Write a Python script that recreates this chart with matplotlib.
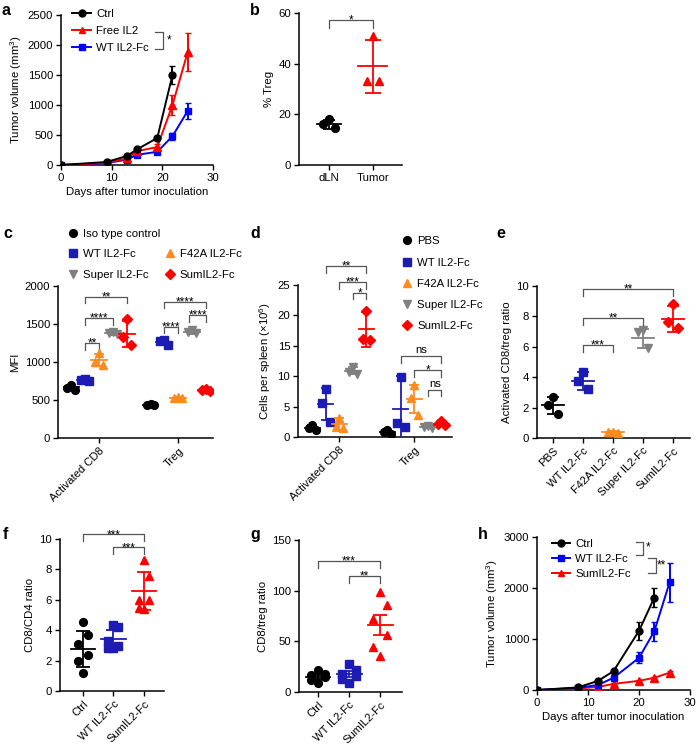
import matplotlib
matplotlib.use("Agg")
import matplotlib.pyplot as plt
from matplotlib.lines import Line2D

plt.rcParams["font.family"] = ["Liberation Sans", "DejaVu Sans"]
plt.rcParams["mathtext.default"] = "regular"
plt.rcParams["axes.linewidth"] = 1.1

FS = 8.2
STAR = 8.5
BLACK, RED, BLUE, NAVY = "#000000", "#ff0000", "#0000ff", "#1c1cb4"
ORANGE, GREY, BRK = "#ff8a1f", "#808080", "#555555"

# ---- a: tumour growth
a_days = [0, 9, 13, 15, 19, 22, 25]
a_ctrl = [0, 50, 150, 260, 450, 1500]
a_ctrl_err = [0, 10, 20, 25, 40, 150]
a_il2 = [0, 35, 110, 230, 300, 1000, 1880]
a_il2_err = [0, 10, 15, 25, 50, 170, 320]
a_wt = [0, 30, 90, 170, 220, 480, 900]
a_wt_err = [0, 8, 15, 20, 25, 55, 140]

# ---- b: % Treg
b_cats = ["dLN", "Tumor"]
b_pts = [[18, 16, 14.5], [51, 33, 33]]
b_mean = [16, 39]
b_err = [1.8, 10.5]

# ---- c: MFI
c_series = ["Iso type control", "WT IL2-Fc", "F42A IL2-Fc", "Super IL2-Fc", "SumIL2-Fc"]
c_groups = ["Activated CD8", "Treg"]
c_cd8_pts = [[700, 660, 630], [770, 760, 750], [1120, 1000, 960], [1390, 1380, 1370], [1560, 1330, 1230]]
c_cd8_mean = [665, 760, 1025, 1380, 1370]
c_cd8_err = [35, 20, 80, 25, 170]
c_treg_pts = [[445, 440, 430], [1290, 1270, 1230], [540, 530, 525], [1420, 1400, 1380], [640, 630, 620]]
c_treg_mean = [440, 1265, 530, 1400, 630]
c_treg_err = [8, 40, 10, 25, 15]

# ---- d: cells per spleen
d_series = ["PBS", "WT IL2-Fc", "F42A IL2-Fc", "Super IL2-Fc", "SumIL2-Fc"]
d_cd8_pts = [[1.9, 1.5, 1.1], [7.9, 5.6, 2.5], [3.2, 1.6, 1.5], [11.5, 10.7, 10.4], [20.8, 16.2, 16.0]]
d_cd8_mean = [1.5, 5.4, 2.1, 10.9, 17.7]
d_cd8_err = [0.4, 2.6, 1.0, 0.6, 2.9]
d_treg_pts = [[1.1, 0.8, 0.5], [9.9, 2.3, 1.6], [8.5, 6.4, 3.7], [1.8, 1.6, 1.5], [2.6, 2.2, 1.9]]
d_treg_mean = [0.8, 4.6, 6.3, 1.6, 2.2]
d_treg_err = [0.3, 5.4, 2.3, 0.15, 0.3]

# ---- e: activated CD8/treg ratio
e_cats = ["PBS", "WT IL2-Fc", "F42A IL2-Fc", "Super IL2-Fc", "SumIL2-Fc"]
e_pts = [[2.7, 2.2, 1.6], [4.35, 3.75, 3.2], [0.42, 0.38, 0.33], [7.1, 6.95, 5.9], [8.8, 7.6, 7.25]]
e_mean = [2.15, 3.75, 0.38, 6.55, 7.85]
e_err = [0.55, 0.6, 0.05, 0.65, 0.85]

# ---- f / g
fg_cats = ["Ctrl", "WT IL2-Fc", "SumIL2-Fc"]
f_pts = [[4.55, 3.7, 3.1, 2.4, 2.0, 1.2], [4.35, 4.2, 3.3, 2.95, 2.8, 2.8], [8.6, 7.55, 6.0, 6.0, 5.45, 5.4]]
f_mean = [2.75, 3.45, 6.6]
f_err = [1.2, 0.55, 1.25]
g_pts = [[22, 18, 17, 15, 12, 9], [28, 22, 18, 16, 13, 9], [99, 86, 72, 56, 44, 36]]
g_mean = [14.5, 17.5, 66]
g_err = [2, 3, 10]

# ---- h: tumour growth
h_days = [0, 8, 12, 15, 20, 23, 26]
h_ctrl = [0, 50, 180, 370, 1160, 1810]
h_ctrl_err = [0, 10, 20, 30, 170, 190]
h_wt = [0, 40, 100, 240, 630, 1150, 2110]
h_wt_err = [0, 10, 15, 25, 110, 190, 390]
h_sum = [0, 30, 60, 120, 180, 240, 340]
h_sum_err = [0, 5, 8, 10, 15, 20, 25]

JIT = {3: [0, -1, 1], 6: [0, 1, -1, 1, -1, 0]}
MK5 = [("o", BLACK), ("s", NAVY), ("^", ORANGE), ("v", GREY), ("D", RED)]
MS = {"o": 5.6, "s": 5.6, "^": 6.0, "v": 6.0, "D": 4.6}


def style(ax):
    for s in ("top", "right"):
        ax.spines[s].set_visible(False)
    ax.tick_params(direction="out", length=3.6, width=1.0, labelsize=FS, pad=2)


def dotplot(ax, x, pts, mean, err, color, marker, jit, mw, cw):
    xs = [x + p * jit for p in JIT[len(pts)]]
    ax.plot(xs, pts, ls="none", marker=marker, color=color, ms=MS[marker],
            zorder=3)
    ax.plot([x - mw, x + mw], [mean, mean], color=color, lw=1.3, zorder=4)
    ax.errorbar(x, mean, yerr=err, color=color, capsize=cw, elinewidth=1.3,
                capthick=1.3, zorder=4)


def bracket(ax, x1, x2, y, h, txt):
    ax.plot([x1, x1, x2, x2], [y - h, y, y, y - h], color=BRK, lw=0.9,
            clip_on=False)
    if txt == "ns":
        ax.annotate(txt, ((x1 + x2) / 2, y), xytext=(0, 1), textcoords="offset points",
                    ha="center", va="bottom", fontsize=FS, annotation_clip=False)
    else:
        ax.annotate(txt, ((x1 + x2) / 2, y), xytext=(0, -2.6), textcoords="offset points",
                    ha="center", va="baseline", fontsize=STAR, annotation_clip=False)


def rot_labels(ax, labels):
    ax.set_xticklabels(labels, rotation=45, ha="right", rotation_mode="anchor",
                       fontsize=8.0)


fig = plt.figure(figsize=(6.96, 7.44), dpi=100)
W, H = 696, 744


def axes_px(x0, x1, y0, y1):
    return fig.add_axes([x0 / W, 1 - y1 / H, (x1 - x0) / W, (y1 - y0) / H])


# ======== a
ax = axes_px(61, 213, 15, 165)
style(ax)
ax.errorbar(a_days[:len(a_ctrl)], a_ctrl, yerr=a_ctrl_err, color=BLACK, marker="o",
            ms=5, lw=1.4, capsize=2.5, zorder=5, label="Ctrl")
ax.errorbar(a_days, a_il2, yerr=a_il2_err, color=RED, marker="^", ms=5.5, lw=1.4,
            capsize=2.5, zorder=4, label="Free IL2")
ax.errorbar(a_days, a_wt, yerr=a_wt_err, color=BLUE, marker="s", ms=5, lw=1.4,
            capsize=2.5, zorder=3, label="WT IL2-Fc")
ax.set_xlim(0, 30)
ax.set_ylim(0, 2500)
ax.set_xticks([0, 10, 20, 30])
ax.set_yticks([0, 500, 1000, 1500, 2000, 2500])
ax.set_xlabel("Days after tumor inoculation", fontsize=FS, labelpad=3)
ax.set_ylabel("Tumor volume (mm$^3$)", fontsize=FS, labelpad=3)
handles = [Line2D([], [], color=c, marker=m, ms=5, lw=1.4) for c, m in
           [(BLACK, "o"), (RED, "^"), (BLUE, "s")]]
ax.legend(handles, ["Ctrl", "Free IL2", "WT IL2-Fc"], loc="upper left",
          bbox_to_anchor=(0.075, 1.04), frameon=False, fontsize=FS,
          handlelength=1.6, handletextpad=0.5, labelspacing=0.6,
          borderpad=0, borderaxespad=0)
ax.plot([18.6, 20.2, 20.2, 18.6], [2220, 2220, 1930, 1930], color=BRK, lw=0.9,
        clip_on=False)
ax.text(20.8, 2075, "*", fontsize=STAR, va="center", ha="left")

# ======== b
ax = axes_px(299, 402, 13, 165)
style(ax)
for i, (pts, c, m) in enumerate(zip(b_pts, [BLACK, RED], ["o", "^"])):
    dotplot(ax, i, pts, b_mean[i], b_err[i], c, m, 0.14,
            0.28 if i == 0 else 0.33, 4.0 if i == 0 else 6.0)
ax.set_xlim(-0.68, 1.66)
ax.set_ylim(0, 60)
ax.set_xticks([0, 1])
ax.set_xticklabels(b_cats, fontsize=FS)
ax.set_yticks([0, 20, 40, 60])
ax.set_ylabel("% Treg", fontsize=FS, labelpad=3)
bracket(ax, 0, 1, 57.2, 3, "*")

# ======== c
ax = axes_px(58, 213, 286, 438)
style(ax)
off = 0.175
for gi, (pts_l, means, errs) in enumerate([(c_cd8_pts, c_cd8_mean, c_cd8_err),
                                            (c_treg_pts, c_treg_mean, c_treg_err)]):
    for si, (m, col) in enumerate(MK5):
        dotplot(ax, gi + (si - 2) * off, pts_l[si], means[si], errs[si], col, m,
                0.05, 0.1, 3.5)
ax.set_xlim(-0.52, 1.44)
ax.set_ylim(0, 2000)
ax.set_yticks([0, 500, 1000, 1500, 2000])
ax.set_xticks([0, 1])
rot_labels(ax, c_groups)
ax.set_ylabel("MFI", fontsize=FS, labelpad=3)
bracket(ax, 0 - off, 0 + 2 * off, 1860, 90, "**")
bracket(ax, 0 - off, 0 + off, 1575, 90, "****")
bracket(ax, 0 - off, 0, 1247, 90, "**")
bracket(ax, 1 - off, 1 + 2 * off, 1794, 90, "****")
bracket(ax, 1 - off, 1, 1466, 90, "****")
bracket(ax, 1 + off * 0.8, 1 + 2 * off, 1619, 90, "****")
handles = [Line2D([], [], ls="none", marker=m, color=c, ms=MS[m]) for m, c in MK5]
blank = Line2D([], [], ls="none")
ax.legend([handles[0], handles[1], handles[3], blank, handles[2], handles[4]],
          [c_series[0], c_series[1], c_series[3], "", c_series[2], c_series[4]],
          ncol=2, loc="upper left", bbox_to_anchor=(0.06, 1.375), frameon=False,
          fontsize=FS, handlelength=1.0, handletextpad=0.4, labelspacing=0.9,
          columnspacing=0.3, borderpad=0, borderaxespad=0)

# ======== d
ax = axes_px(298, 452, 285, 437)
style(ax)
off = 0.18
for gi, (pts_l, means, errs) in enumerate([(d_cd8_pts, d_cd8_mean, d_cd8_err),
                                            (d_treg_pts, d_treg_mean, d_treg_err)]):
    for si, (m, col) in enumerate(MK5):
        dotplot(ax, gi + (si - 2) * off, pts_l[si], means[si], errs[si], col, m,
                0.05, 0.1, 3.5)
ax.set_xlim(-0.55, 1.5)
ax.set_ylim(0, 25)
ax.set_yticks([0, 5, 10, 15, 20, 25])
ax.set_xticks([0, 1])
rot_labels(ax, c_groups)
ax.set_ylabel("Cells per spleen (\u00d710$^6$)", fontsize=FS, labelpad=3)
bracket(ax, 0 - off, 0 + 2 * off, 28.1, 1.2, "**")
bracket(ax, 0, 0 + 2 * off, 25.5, 1.2, "***")
bracket(ax, 0 + off, 0 + 2 * off, 23.7, 1.0, "*")
bracket(ax, 1 - off, 1 + 2 * off, 13.3, 1.2, "ns")
bracket(ax, 1, 1 + 2 * off, 11.1, 1.2, "*")
bracket(ax, 1 + off, 1 + 2 * off, 7.7, 1.0, "ns")
handles = [Line2D([], [], ls="none", marker=m, color=c, ms=MS[m]) for m, c in MK5]
ax.legend(handles, d_series, loc="upper left", bbox_to_anchor=(0.67, 1.32),
          frameon=False, fontsize=FS, handlelength=1.0, handletextpad=0.4,
          labelspacing=0.98, borderpad=0, borderaxespad=0)

# ======== e
ax = axes_px(537, 690, 286, 438)
style(ax)
for i, (m, col) in enumerate(MK5):
    dotplot(ax, i, e_pts[i], e_mean[i], e_err[i], col, m, 0.17, 0.38, 4.5)
ax.set_xlim(-0.53, 4.57)
ax.set_ylim(0, 10)
ax.set_yticks([0, 2, 4, 6, 8, 10])
ax.set_xticks(range(5))
rot_labels(ax, e_cats)
ax.set_ylabel("Activated CD8/treg ratio", fontsize=FS, labelpad=3)
bracket(ax, 1, 4, 9.8, 0.45, "**")
bracket(ax, 1, 3, 7.9, 0.45, "**")
bracket(ax, 1, 2, 6.1, 0.45, "***")

# ======== f
ax = axes_px(60, 164, 539, 691)
style(ax)
for i, (m, col) in enumerate([("o", BLACK), ("s", NAVY), ("^", RED)]):
    dotplot(ax, i, f_pts[i], f_mean[i], f_err[i], col, m, 0.16, 0.4, 5.0)
ax.set_xlim(-0.75, 2.66)
ax.set_ylim(0, 10)
ax.set_yticks([0, 2, 4, 6, 8, 10])
ax.set_xticks(range(3))
rot_labels(ax, fg_cats)
ax.set_ylabel("CD8/CD4 ratio", fontsize=FS, labelpad=3)
bracket(ax, 0, 2, 10.3, 0.45, "***")
bracket(ax, 1, 2, 9.45, 0.45, "***")

# ======== g
ax = axes_px(299, 402, 540, 692)
style(ax)
for i, (m, col) in enumerate([("o", BLACK), ("s", NAVY), ("^", RED)]):
    dotplot(ax, i, g_pts[i], g_mean[i], g_err[i], col, m, 0.22, 0.4, 5.0)
ax.set_xlim(-0.61, 2.7)
ax.set_ylim(0, 150)
ax.set_yticks([0, 50, 100, 150])
ax.set_xticks(range(3))
rot_labels(ax, fg_cats)
ax.set_ylabel("CD8/treg ratio", fontsize=FS, labelpad=3)
bracket(ax, 0, 2, 129.6, 7, "***")
bracket(ax, 1, 2, 114.4, 7, "**")

# ======== h
ax = axes_px(537, 690, 537, 690)
style(ax)
ax.errorbar(h_days[:len(h_ctrl)], h_ctrl, yerr=h_ctrl_err, color=BLACK, marker="o",
            ms=5, lw=1.4, capsize=2.5, zorder=5)
ax.errorbar(h_days, h_wt, yerr=h_wt_err, color=BLUE, marker="s", ms=5, lw=1.4,
            capsize=2.5, zorder=4)
ax.errorbar(h_days, h_sum, yerr=h_sum_err, color=RED, marker="^", ms=5.5, lw=1.4,
            capsize=2.5, zorder=3)
ax.set_xlim(0, 30)
ax.set_ylim(0, 3000)
ax.set_xticks([0, 10, 20, 30])
ax.set_yticks([0, 1000, 2000, 3000])
ax.set_xlabel("Days after tumor inoculation", fontsize=FS, labelpad=3)
ax.set_ylabel("Tumor volume (mm$^3$)", fontsize=FS, labelpad=3)
handles = [Line2D([], [], color=c, marker=m, ms=5, lw=1.4) for c, m in
           [(BLACK, "o"), (BLUE, "s"), (RED, "^")]]
ax.legend(handles, ["Ctrl", "WT IL2-Fc", "SumIL2-Fc"], loc="upper left",
          bbox_to_anchor=(0.095, 0.99), frameon=False, fontsize=FS,
          handlelength=1.6, handletextpad=0.5, labelspacing=0.45,
          borderpad=0, borderaxespad=0)
ax.plot([19.4, 20.8, 20.8, 19.4], [2910, 2910, 2650, 2650], color=BRK, lw=0.9,
        clip_on=False)
ax.plot([21.8, 23.3, 23.3, 21.8], [2590, 2590, 2295, 2295], color=BRK, lw=0.9,
        clip_on=False)
ax.text(21.3, 2790, "*", fontsize=STAR, va="center", ha="left")
ax.text(23.5, 2450, "**", fontsize=STAR, va="center", ha="left")

# panel letters
for lt, x, y in [("a", 2, 3), ("b", 250, 3), ("c", 3, 226), ("d", 250, 226),
                 ("e", 496, 226), ("f", 3, 527), ("g", 250, 527), ("h", 478, 527)]:
    fig.text(x / W, 1 - y / H, lt, fontsize=11.5, fontweight="bold", va="top",
             ha="left")

fig.savefig("out.png", dpi=100)
